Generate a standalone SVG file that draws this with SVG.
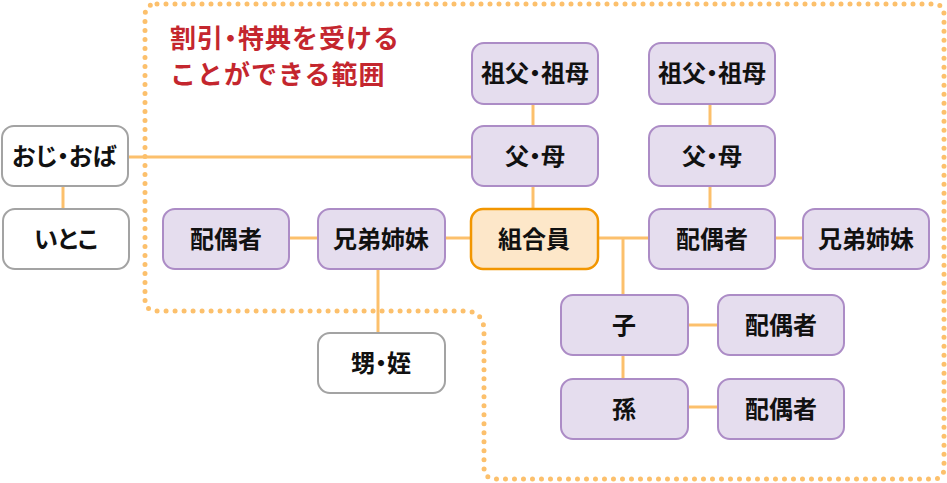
<svg xmlns="http://www.w3.org/2000/svg" width="947" height="483" viewBox="0 0 947 483">
<style>
.box{fill:#E5DDEE;stroke:#AC8CC6;stroke-width:2}
.wbox{fill:#FFFFFF;stroke:#A3A3A3;stroke-width:2}
.obox{fill:#FDE7C9;stroke:#F29600;stroke-width:2.5}
.lbl{font-family:"Noto Sans CJK JP","Noto Sans CJK SC",sans-serif;font-size:24px;font-weight:700;fill:#111;text-anchor:middle;font-feature-settings:"palt"}
.title{font-family:"Noto Sans CJK JP","Noto Sans CJK SC",sans-serif;font-size:26px;font-weight:700;fill:#C4262E;letter-spacing:1px}
.pd{font-feature-settings:"palt"}
.con line{stroke:#FCC06C;stroke-width:3}
.dots{fill:none;stroke:#FCC06C;stroke-width:5;stroke-linecap:round;stroke-dasharray:0 9}
</style>
<rect width="947" height="483" fill="#FFFFFF"/>
<path class="dots" d="M157 4 H933 Q944 4 944 15 V468 Q944 479 933 479 H496 Q484 479 484 467 V331 Q484 311 464 311 H157 Q145 311 145 299 V16 Q145 4 157 4 Z"/>
<g id="title">
<text class="title" x="170" y="48">割引<tspan class="pd">・</tspan>特典を受ける</text>
<text class="title" x="170" y="84">ことができる範囲</text>
</g>
<g class="con" id="connectors">
<line x1="128" y1="157" x2="472" y2="157"/>
<line x1="63" y1="186" x2="63" y2="209"/>
<line x1="289" y1="238" x2="318" y2="238"/>
<line x1="445" y1="238" x2="471" y2="238"/>
<line x1="378" y1="269" x2="378" y2="333"/>
<line x1="533" y1="104" x2="533" y2="126"/>
<line x1="533" y1="186" x2="533" y2="209"/>
<line x1="710" y1="104" x2="710" y2="126"/>
<line x1="710" y1="186" x2="710" y2="209"/>
<line x1="598" y1="238" x2="649" y2="238"/>
<line x1="623" y1="238" x2="623" y2="295"/>
<line x1="775" y1="238" x2="803" y2="238"/>
<line x1="688" y1="325" x2="718" y2="325"/>
<line x1="623" y1="355" x2="623" y2="379"/>
<line x1="688" y1="407" x2="718" y2="407"/>
</g>
<g id="oji-oba"><rect class="wbox" x="2" y="126" width="126" height="60" rx="12"/><text class="lbl" x="64" y="165">おじ・おば</text></g>
<g id="itoko"><rect class="wbox" x="3" y="209" width="126" height="60" rx="12"/><text class="lbl" x="66" y="248">いとこ</text></g>
<g id="spouse-l"><rect class="box" x="163" y="209" width="126" height="60" rx="12"/><text class="lbl" x="226" y="248">配偶者</text></g>
<g id="sibling-l"><rect class="box" x="318" y="209" width="127" height="60" rx="12"/><text class="lbl" x="381" y="248">兄弟姉妹</text></g>
<g id="oimei"><rect class="wbox" x="318" y="333" width="127" height="60" rx="12"/><text class="lbl" x="381" y="372">甥・姪</text></g>
<g id="member"><rect class="obox" x="471" y="209" width="127" height="60" rx="12"/><text class="lbl" x="534" y="248">組合員</text></g>
<g id="gp-l"><rect class="box" x="472" y="43" width="126" height="61" rx="12"/><text class="lbl" x="535" y="82">祖父・祖母</text></g>
<g id="parent-l"><rect class="box" x="472" y="126" width="126" height="60" rx="12"/><text class="lbl" x="535" y="165">父・母</text></g>
<g id="gp-r"><rect class="box" x="649" y="43" width="126" height="61" rx="12"/><text class="lbl" x="712" y="82">祖父・祖母</text></g>
<g id="parent-r"><rect class="box" x="649" y="126" width="126" height="60" rx="12"/><text class="lbl" x="712" y="165">父・母</text></g>
<g id="spouse-r"><rect class="box" x="649" y="209" width="126" height="60" rx="12"/><text class="lbl" x="712" y="248">配偶者</text></g>
<g id="sibling-r"><rect class="box" x="803" y="209" width="126" height="60" rx="12"/><text class="lbl" x="866" y="248">兄弟姉妹</text></g>
<g id="child"><rect class="box" x="561" y="295" width="127" height="60" rx="12"/><text class="lbl" x="624" y="334">子</text></g>
<g id="child-spouse"><rect class="box" x="718" y="295" width="126" height="60" rx="12"/><text class="lbl" x="781" y="334">配偶者</text></g>
<g id="grandchild"><rect class="box" x="561" y="379" width="127" height="60" rx="12"/><text class="lbl" x="624" y="418">孫</text></g>
<g id="grandchild-spouse"><rect class="box" x="718" y="379" width="126" height="60" rx="12"/><text class="lbl" x="781" y="418">配偶者</text></g>
</svg>
